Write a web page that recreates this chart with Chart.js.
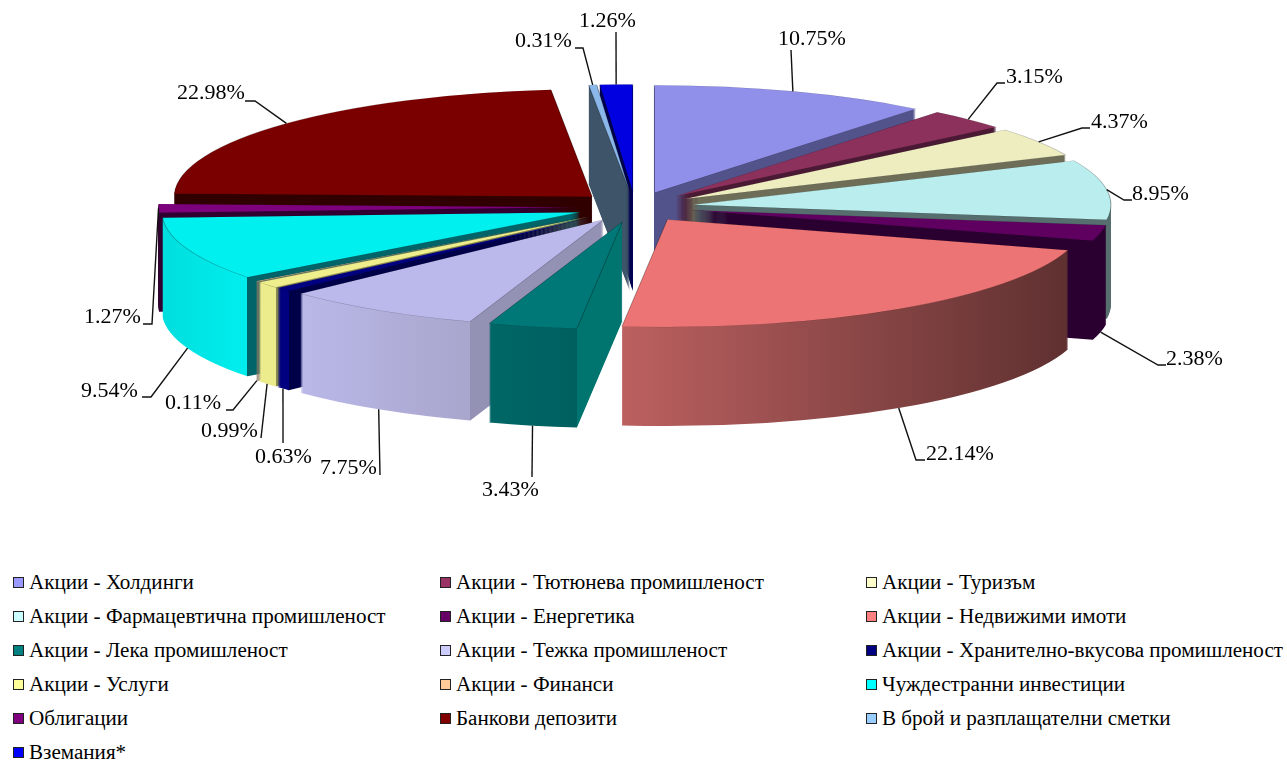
<!DOCTYPE html>
<html>
<head>
<meta charset="utf-8">
<script src="https://cdn.jsdelivr.net/npm/chart.js@4"></script>
<style>
  html, body { margin: 0; background: #fff; overflow: hidden; }
  #wrap { position: relative; width: 1287px; height: 760px; }
  #chart { position: absolute; left: 0; top: 0; }
  #legend {
    position: absolute; left: 13px; top: 565px;
    display: grid; grid-template-columns: 427px 426px auto; grid-auto-rows: 34px;
    font: 21.1px "Liberation Serif", serif; color: #000; white-space: nowrap;
  }
  #legend div { display: flex; align-items: center; }
  #legend i { width: 9px; height: 9px; border: 1px solid #222; margin-right: 5px; flex: none; }
</style>
</head>
<body>
<div id="wrap">
  <canvas id="chart" width="1287" height="560"></canvas>
  <div id="legend"></div>
</div>
<script>
const categories = [
  'Акции - Холдинги', 'Акции - Тютюнева промишленост', 'Акции - Туризъм',
  'Акции - Фармацевтична промишленост', 'Акции - Енергетика', 'Акции - Недвижими имоти',
  'Акции - Лека промишленост', 'Акции - Тежка промишленост', 'Акции - Хранително-вкусова промишленост',
  'Акции - Услуги', 'Акции - Финанси', 'Чуждестранни инвестиции',
  'Облигации', 'Банкови депозити', 'В брой и разплащателни сметки', 'Вземания*',
];
const shares = [10.75, 3.15, 4.37, 8.95, 2.38, 22.14, 3.43, 7.75, 0.63, 0.99, 0.11, 9.54, 1.27, 22.98, 0.31, 1.26];

const legendColors = ['#9999FF', '#993366', '#FFFFCC', '#CCFFFF', '#660066', '#FF8080', '#008080', '#CCCCFF',
  '#000080', '#FFFF99', '#FFCC99', '#00FFFF', '#800080', '#800000', '#99CCFF', '#0000FF'];
const topColors = ['#9090EA', '#8C305C', '#EDEDC0', '#BAEDED', '#5F0060', '#EC7474', '#007878', '#BBB9EC',
  '#000080', '#EEEE8C', '#E8C090', '#00EFEF', '#7D007D', '#7A0000', '#8BB8EB', '#0000E0'];
const wallLeft = ['#53538C', '#4A1A35', '#6E6E58', '#566E6E', '#2A0030', '#BC6060', '#006666', '#BAB8E8',
  '#000080', '#ECEC8C', '#8A7860', '#00DEDE', '#300030', '#300000', '#3E5468', '#000050'];
const wallRight = ['#53538C', '#4A1A35', '#6E6E58', '#566E6E', '#2A0030', '#5F3030', '#006060', '#A8A6CC',
  '#000080', '#ECEC8C', '#8A7860', '#00EEEE', '#300030', '#300000', '#3E5468', '#000050'];
const cutColors = ['#53538C', '#4A1A35', '#6E6E58', '#566E6E', '#2A0030', '#5F3030', '#007570', '#9492B4',
  '#000048', '#8A8A50', '#8A7860', '#006468', '#300030', '#300000', '#3E5468', '#000050'];

// leader bends and label spots, px
const leaderBends = [
  [[791, 50]], [[997, 83], [1005, 83]], [[1082, 128], [1090, 128]], [[1124, 200], [1132, 200]],
  [[1158, 365], [1166, 365]], [[916, 460], [925, 460]], [[532, 477]], [[380, 475]],
  [[283, 443]], [[261, 438]], [[233, 410], [226, 410]], [[151, 397], [142, 397]],
  [[152, 324], [143, 324]], [[255, 101], [245, 101]], [[583, 48], [575, 48]], [[616, 32]],
];
const labelSpots = [
  [778, 39], [1006, 77], [1091, 122], [1132, 194], [1166, 359], [926, 454], [482, 490], [320, 468],
  [255, 457], [201, 431], [165, 403], [81, 391], [84, 317], [177, 93], [515, 41], [579, 21],
];

// ellipse of the pie on the page
const pieX = 635, pieY = 207, pieRx = 418, pieRy = 107.5;
const depth = 99;
const explode = 0.14;

function drawPie3d(chart) {
  const ctx = chart.ctx;
  const arcs = chart.getDatasetMeta(0).data;
  const R = arcs[0].outerRadius;
  const cx = arcs[0].x, cy = arcs[0].y;
  const sx = pieRx / R, sy = pieRy / R;
  const order = arcs.map((a, i) => i).sort((a, b) =>
    Math.sin((arcs[a].startAngle + arcs[a].endAngle) / 2) - Math.sin((arcs[b].startAngle + arcs[b].endAngle) / 2));

  order.forEach(i => {
    const arc = arcs[i];
    const mid = (arc.startAngle + arc.endAngle) / 2;
    const moveX = Math.cos(mid) * explode * R, moveY = Math.sin(mid) * explode * R;
    const top = arc.options;

    // horizontal shading of the side, in the arc's own x
    const xs = [Math.cos(arc.startAngle), Math.cos(arc.endAngle)];
    if (arc.startAngle < Math.PI && arc.endAngle > Math.PI) xs.push(-1);
    const minX = cx + R * Math.min(...xs), maxX = cx + R * Math.max(...xs);
    let side;
    if (Math.cos(mid) < 0 && Math.sin(mid) > 0) {
      // front left slice: the cut face shows to the right of the first corner
      const t = (cx + R * Math.cos(arc.startAngle) - minX) / (cx - minX);
      side = ctx.createLinearGradient(minX, 0, cx, 0);
      side.addColorStop(0, wallLeft[i]);
      side.addColorStop(t, wallRight[i]);
      side.addColorStop(t, cutColors[i]);
      side.addColorStop(1, cutColors[i]);
    } else {
      side = ctx.createLinearGradient(minX, 0, maxX, 0);
      side.addColorStop(0, wallLeft[i]);
      side.addColorStop(1, wallRight[i]);
    }

    for (let d = depth; d >= 0; d--) {
      arc.options = Object.assign({}, top, d === 0
        ? {borderWidth: 0.7, borderColor: 'rgba(0,0,0,0.3)'}
        : {backgroundColor: side});
      ctx.save();
      ctx.translate(pieX, pieY + d);
      ctx.scale(sx, sy);
      ctx.translate(-cx + moveX, -cy + moveY);
      arc.draw(ctx);
      ctx.restore();
    }
    arc.options = top;
  });

  // leaders and value labels
  ctx.lineWidth = 1.4;
  ctx.strokeStyle = '#111';
  ctx.fillStyle = '#000';
  ctx.font = '22px "Liberation Serif", serif';
  ctx.textBaseline = 'middle';
  ctx.textAlign = 'left';
  arcs.forEach((arc, i) => {
    const mid = (arc.startAngle + arc.endAngle) / 2;
    const dropped = Math.sin(mid) > 0.1 ? depth : 0;
    const startX = pieX + (1 + explode) * pieRx * Math.cos(mid);
    const startY = pieY + (1 + explode) * pieRy * Math.sin(mid) + dropped;
    ctx.beginPath();
    ctx.moveTo(startX, startY);
    leaderBends[i].forEach(p => ctx.lineTo(p[0], p[1]));
    ctx.stroke();
    ctx.fillText(shares[i].toFixed(2) + '%', labelSpots[i][0], labelSpots[i][1]);
  });
  return false;
}

new Chart(document.getElementById('chart'), {
  type: 'pie',
  data: {
    labels: categories,
    datasets: [{
      data: shares,
      backgroundColor: topColors,
      borderWidth: 0,
    }],
  },
  options: {
    responsive: false,
    animation: false,
    events: [],
    plugins: {
      legend: { display: false },
      tooltip: { enabled: false },
    },
  },
  plugins: [{ id: 'pie3d', beforeDatasetsDraw: drawPie3d }],
});

const legendBox = document.getElementById('legend');
categories.forEach((name, i) => {
  const row = document.createElement('div');
  const box = document.createElement('i');
  box.style.background = legendColors[i];
  row.appendChild(box);
  row.appendChild(document.createTextNode(name));
  legendBox.appendChild(row);
});
</script>
</body>
</html>
